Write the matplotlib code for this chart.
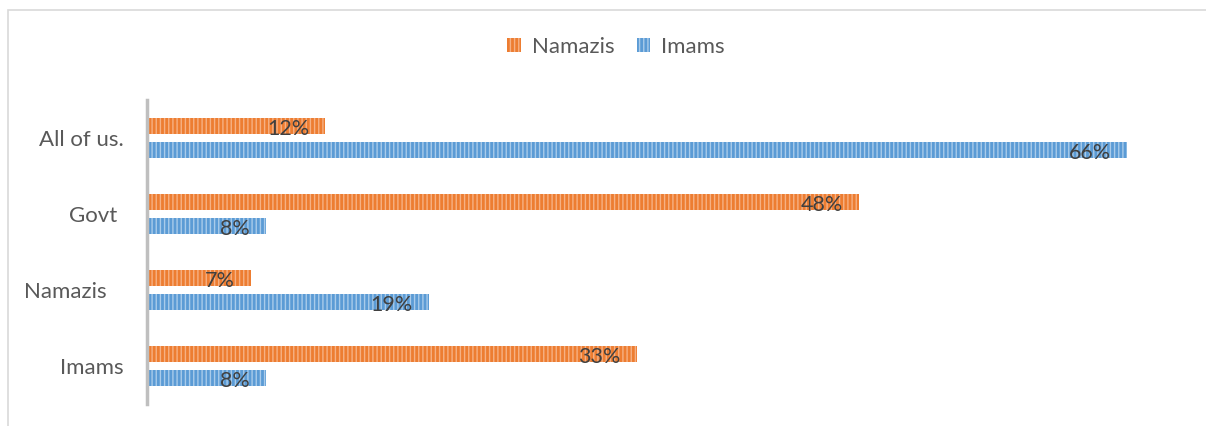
"""Horizontal grouped bar chart: Namazis vs Imams responses."""

import matplotlib

matplotlib.use("Agg")
import matplotlib.pyplot as plt
from matplotlib.patches import Rectangle
import numpy as np

plt.rcParams["font.family"] = ["Lato", "DejaVu Sans"]
plt.rcParams["hatch.linewidth"] = 1.0

# categories listed bottom to top
categories = ["Imams", "Namazis   ", "Govt ", "All of us."]
namazis = [33, 7, 48, 12]
imams = [8, 19, 8, 66]
series_names = ["Namazis", "Imams"]

ORANGE = "#ED7D31"
ORANGE_LIGHT = "#F6B184"
BLUE = "#5B9BD5"
BLUE_LIGHT = "#A9CBEA"
TEXT = "#404040"
TICK = "#595959"

W, H, DPI = 1206, 426, 100
fig = plt.figure(figsize=(W / DPI, H / DPI), dpi=DPI)

# chart-area border (cropped on the right and bottom)
fig.patches.append(
    Rectangle((8 / W, -0.1), 1.2, 1.1 - 10 / H, transform=fig.transFigure,
              fill=False, edgecolor="#D9D9D9", linewidth=1.2)
)

ax = fig.add_axes([147 / W, (H - 404) / H, (1186 - 147) / W, 304 / H])

y = np.arange(len(categories))
bar_h = 0.21
off = 0.158

b1 = ax.barh(y + off, namazis, height=bar_h, color=ORANGE,
             edgecolor=ORANGE_LIGHT, linewidth=0, hatch="||||", label=series_names[0])
b2 = ax.barh(y - off, imams, height=bar_h, color=BLUE,
             edgecolor=BLUE_LIGHT, linewidth=0, hatch="||||", label=series_names[1])

for bars, vals in ((b1, namazis), (b2, imams)):
    for rect, v in zip(bars, vals):
        ax.annotate(f"{v}%", (rect.get_width(), rect.get_y() + rect.get_height() / 2),
                    xytext=(-11.5, -2), textcoords="offset points",
                    ha="right", va="center", fontsize=15.5, color=TEXT)

ax.set_xlim(0, 70)
ax.set_ylim(-0.5, len(categories) - 0.5)
ax.set_yticks(y)
ax.set_yticklabels(categories, fontsize=16, color=TICK)
ax.tick_params(axis="y", length=0, pad=17)
ax.set_xticks([])
for side in ("top", "right", "bottom"):
    ax.spines[side].set_visible(False)
ax.spines["left"].set_color("#BFBFBF")
ax.spines["left"].set_linewidth(2.5)

leg = fig.legend(handles=[b1, b2], loc="center", bbox_to_anchor=(616 / W, (H - 47) / H),
                 ncol=2, frameon=False, fontsize=16, handlelength=0.6, handleheight=0.6,
                 columnspacing=1.0, handletextpad=0.5)
for t in leg.get_texts():
    t.set_color(TICK)

fig.savefig("out.png", dpi=DPI)
